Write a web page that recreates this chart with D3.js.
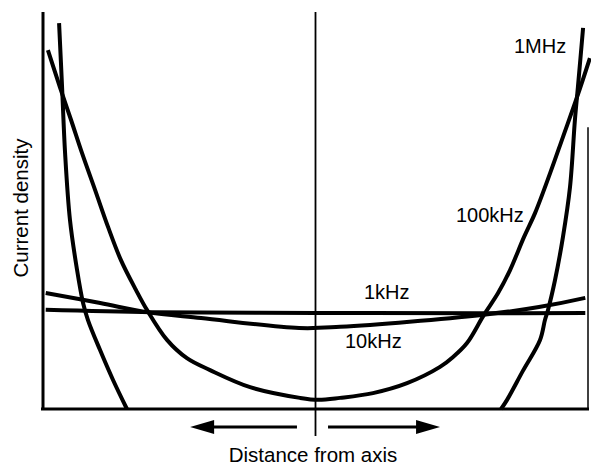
<!DOCTYPE html>
<html>
<head>
<meta charset="utf-8">
<script src="https://cdn.jsdelivr.net/npm/d3@7"></script>
<style>
  html, body { margin: 0; padding: 0; background: #fff; }
  svg { display: block; }
  text { font-family: "Liberation Sans", Arial, Helvetica, sans-serif; fill: #000; }
</style>
</head>
<body>
<svg id="chart" width="591" height="465"></svg>
<script>
// Distance from axis (normalised, -1 .. 1) and current density (arbitrary units)
const khz1 = [
  [-0.99, 2.50], [-0.60, 2.44], [0.00, 2.42], [0.60, 2.41], [0.99, 2.42]
];
const khz10 = [
  [-0.99, 2.92], [-0.79, 2.67], [-0.62, 2.44], [-0.42, 2.29], [-0.06, 2.04],
  [0.09, 2.07], [0.61, 2.37], [0.82, 2.57], [0.99, 2.80]
];
const khz100 = [
  [-0.982, 9.04], [-0.938, 8.11], [-0.897, 7.28], [-0.857, 6.45], [-0.809, 5.52],
  [-0.761, 4.58], [-0.714, 3.75], [-0.659, 3.00], [-0.618, 2.49], [-0.545, 1.74],
  [-0.472, 1.28], [-0.387, 0.98], [-0.240, 0.55], [-0.057, 0.28], [0.01, 0.23],
  [0.090, 0.28], [0.211, 0.40], [0.336, 0.65], [0.457, 1.06], [0.505, 1.31],
  [0.556, 1.66], [0.618, 2.37], [0.670, 2.92], [0.714, 3.50], [0.765, 4.33],
  [0.806, 4.94], [0.861, 5.94], [0.908, 6.85], [0.960, 7.86], [1.007, 8.84]
];
const mhz1Left = [
  [-0.941, 9.72], [-0.930, 8.11], [-0.919, 6.45], [-0.901, 4.76], [-0.875, 3.50],
  [-0.853, 2.67], [-0.835, 2.24], [-0.791, 1.49], [-0.743, 0.73], [-0.692, 0.0]
];
const mhz1Right = [
  [0.681, 0.0], [0.703, 0.23], [0.761, 0.96], [0.824, 1.74], [0.842, 2.24],
  [0.853, 2.49], [0.879, 3.25], [0.908, 4.33], [0.934, 5.59], [0.952, 7.28],
  [0.963, 8.11], [0.982, 9.60]
];
const seriesLabels = ["1kHz", "10kHz", "100kHz", "1MHz"];
const xTitle = "Distance from axis";
const yTitle = "Current density";

const svg = d3.select("#chart");
const x = d3.scaleLinear().domain([-1, 1]).range([43, 588]);
const y = d3.scaleLinear().domain([0, 10]).range([409, 12]);

const line = d3.line().x(d => x(d[0])).y(d => y(d[1])).curve(d3.curveCatmullRom.alpha(0.5));

// frame
svg.append("line").attr("x1", x(-1)).attr("x2", x(-1)).attr("y1", y(10)).attr("y2", y(0) + 1)
  .attr("stroke", "#000").attr("stroke-width", 3);
svg.append("line").attr("x1", x(-1) - 2).attr("x2", x(1) + 1).attr("y1", y(0)).attr("y2", y(0))
  .attr("stroke", "#000").attr("stroke-width", 3);
svg.append("line").attr("x1", x(1)).attr("x2", x(1)).attr("y1", y(7.1)).attr("y2", y(0))
  .attr("stroke", "#000").attr("stroke-width", 1.5);
// conductor axis
svg.append("line").attr("x1", x(0)).attr("x2", x(0)).attr("y1", y(10)).attr("y2", y(0) + 27)
  .attr("stroke", "#000").attr("stroke-width", 1.8);

// curves
const curves = [khz1, khz10, khz100, mhz1Left, mhz1Right];
svg.selectAll("path.curve").data(curves).enter().append("path")
  .attr("class", "curve")
  .attr("d", line)
  .attr("fill", "none").attr("stroke", "#000").attr("stroke-width", 4)
  .attr("stroke-linecap", "butt");

// labels
const labelPos = [
  { t: seriesLabels[0], x: 364, y: 299 },
  { t: seriesLabels[1], x: 345, y: 348 },
  { t: seriesLabels[2], x: 456, y: 222 },
  { t: seriesLabels[3], x: 514, y: 53 }
];
svg.selectAll("text.lbl").data(labelPos).enter().append("text")
  .attr("class", "lbl").attr("x", d => d.x).attr("y", d => d.y)
  .attr("font-size", 20).text(d => d.t);

// arrows
const ay = 427;
svg.append("line").attr("x1", x(-0.068)).attr("x2", x(-0.40)).attr("y1", ay).attr("y2", ay)
  .attr("stroke", "#000").attr("stroke-width", 3);
svg.append("path").attr("d", `M${x(-0.46)},${ay} L${x(-0.46) + 24},${ay - 7} L${x(-0.46) + 24},${ay + 7} Z`).attr("fill", "#000");
svg.append("line").attr("x1", x(0.046)).attr("x2", x(0.40)).attr("y1", ay).attr("y2", ay)
  .attr("stroke", "#000").attr("stroke-width", 3);
svg.append("path").attr("d", `M${x(0.457)},${ay} L${x(0.457) - 24},${ay - 7} L${x(0.457) - 24},${ay + 7} Z`).attr("fill", "#000");

// titles
svg.append("text").attr("x", 313).attr("y", 462).attr("text-anchor", "middle")
  .attr("font-size", 20.5).text(xTitle);
svg.append("text").attr("transform", "translate(28,208) rotate(-90)").attr("text-anchor", "middle")
  .attr("font-size", 20.5).text(yTitle);
</script>
</body>
</html>
